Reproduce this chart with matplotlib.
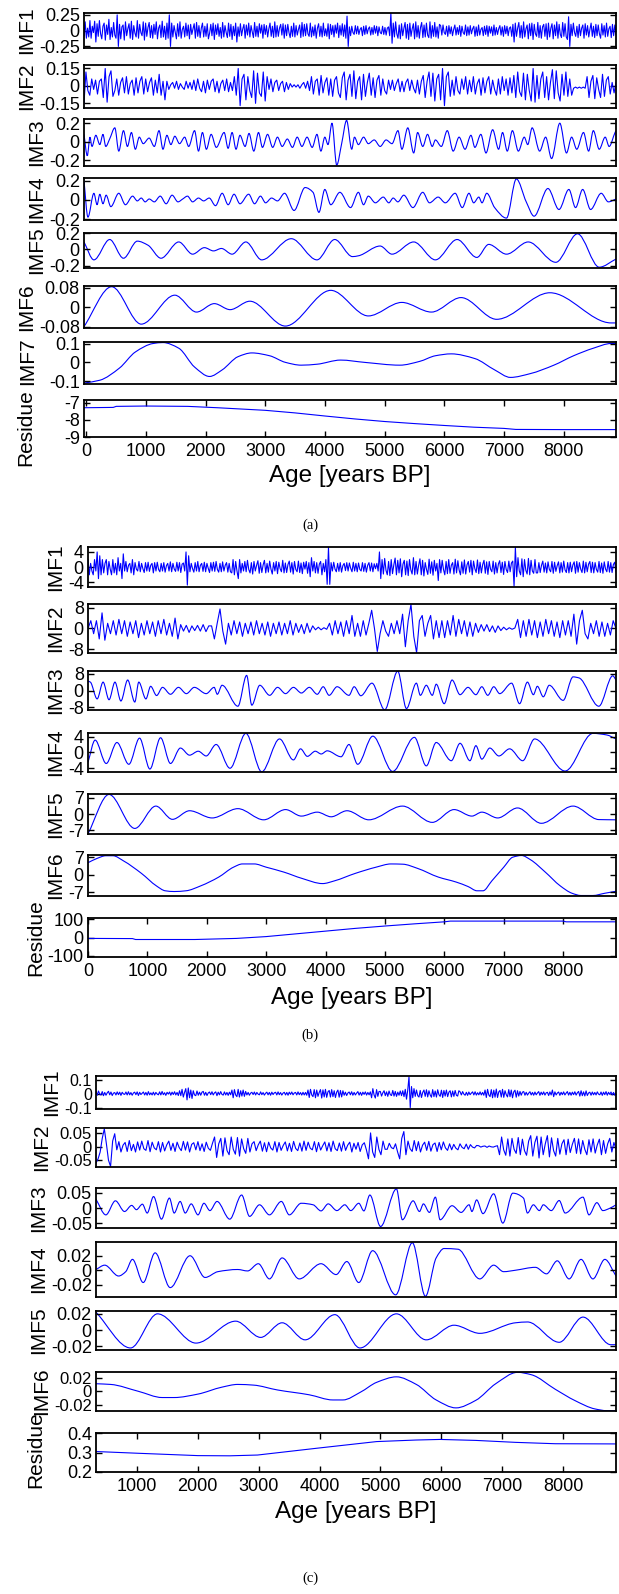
import numpy as np
import matplotlib
matplotlib.use('Agg')
import matplotlib.pyplot as plt
from matplotlib.path import Path
from matplotlib.patches import PathPatch

plt.rcParams['font.family'] = ['Liberation Sans', 'DejaVu Sans']

# ------------------------------------------------------------------ DATA
# ---- (a) ----
a_span = (-40, 8880)
a_imf1 = [-8,14,-12,4,-10,16,-12,7,-3,15,-18,11,-9,16,-5,-13,7,12,-15,9,-6,18,-14,5,-10,13,-7,-12,
          25,-25,
          10,-13,6,9,-15,14,-8,3,11,-12,15,-14,8,-4,-10,16,-12,10,-3,-8,14,-15,12,-9,5,13,-11,8,-12,10,-6,14,-13,4,9,-11,15,-10,7,-14,12,-12,
          25,-25,
          12,-10,8,-3,-13,11,-9,14,-12,2,7,-10,12,-8,9,-13,10,-6,3,11,-12,13,-9,8,-11,4,12,-10,7,-9,11,-13,-4,10,-8,12,-14,9,-6,11,
          -9,5,-12,13,-10,8,-3,-11,12,-9,10,-14,7,-8,12,-18,6,
          -9,11,-8,3,10,-12,9,-7,12,-10,8,-2,-11,13,-9,7,-10,11,-4,9,-12,10,-6,8,-10,3,12,-9,7,-11,
          14,-10,8,-9,4,10,-7,11,-12,9,-8,10,-3,-11,7,-9,12,-10,8,-7,2,9,-11,13,-9,10,-8,11,-5,-9,
          12,-10,6,-8,9,-12,4,11,-9,7,-10,12,-8,3,-9,11,-13,10,-6,8,-10,9,-4,12,-11,8,-7,11,-9,9,-12,
          23,-25,
          6,-8,7,-3,-6,8,-5,7,-6,2,5,-8,7,-6,8,-5,3,6,-7,5,-6,8,-4,7,-8,6,-3,-5,7,-6,5,-7,4,6,-8,
          28,-20,
          12,-10,14,-5,-12,9,-13,11,-8,4,13,-12,10,-14,12,-9,3,11,-13,14,-10,8,-12,5,13,-11,9,-10,12,-7,-11,14,-12,8,-9,13,-10,6,-12,10,
          8,-7,9,-3,-6,7,-9,8,-5,6,-8,2,9,-7,5,-6,8,-9,7,-3,-6,9,-8,6,-7,8,-5,3,7,-9,
          6,-8,9,-7,2,5,-8,7,-6,8,-9,7,-4,6,-8,9,-7,5,-6,3,8,-7,6,-9,8,-5,7,-8,4,6,-9,
          10,-18,12,-9,4,13,-11,8,-12,14,-10,3,9,-13,11,-8,12,-14,10,-5,-9,13,-11,8,-12,6,10,-9,11,-14,
          12,-10,4,11,-13,9,-8,14,-12,10,-6,-11,13,-9,11,-10,-14,
          22,-25,
          10,-8,12,-3,-9,7,-11,10,-8,4,9,-12,11,-7,8,-10,2,12,-9,7,-11,10,-8,9,-5,-12,11,-7,8,-10,12,-9,3,7,-11,10,-8,9,-6]  # x0.01
a_imf2 = [-15,12,-4,-8,6,-3,5,-7,4,6,
          -10,15,-14,8,13,-9,-4,
          6,-8,3,7,-6,8,-7,2,5,-8,7,-6,4,8,-7,6,-5,3,7,-8,5,-6,10,-8,4,-12,
          4,-3,1,3,-2,4,-3,2,-1,-3,4,-2,3,-3,
          5,-4,6,-2,-5,4,-6,5,-3,4,6,-5,4,-6,2,5,-4,6,-5,3,-4,
          8,-8,15,-17,6,10,-12,8,-4,-10,13,-15,11,-6,-9,12,-13,8,-3,6,-5,3,
          5,-4,2,4,-5,3,-3,2,-1,1,-1,1,-2,1,3,-2,4,-4,
          8,-7,4,6,-8,9,-6,3,7,-8,6,-9,5,8,-6,-10,7,
          12,-12,5,10,-9,13,-11,4,8,-12,10,-9,3,11,-8,7,-10,5,9,-8,6,-4,-7,5,-3,
          5,-4,2,6,-5,4,-5,3,6,-4,5,-2,-6,5,-7,4,
          9,-10,4,12,-9,11,-13,6,10,-12,15,-17,8,12,-9,5,-8,8,-4,
          -7,6,-3,8,-7,5,-5,8,-7,2,6,-8,7,-6,4,8,-7,5,-3,-8,6,-7,8,-4,6,-8,7,-6,9,
          -10,12,-5,-9,11,-12,10,-4,-13,15,-14,9,-11,6,12,-10,8,-12,3,14,-11,13,-6,-13,10,-8,12,-9,6,-8,
          -2,-1,-2,-1,-2,-1,-2,
          8,-10,4,9,-11,7,-3,-10,10,-9,5,8,-7,3,-6,3]  # x0.01
a_imf3_age = [-40,15,60,93,159,225,278,325,390,477,543,622,688,755,821,887,953,1052,1139,1218,
              1284,1350,1417,1483,1562,1648,1715,1814,1880,1946,2012,2092,2178,2310,2376,2443,2509,2575,2661,2727,
              2807,2886,2952,3038,3124,3204,3283,3369,3455,3535,3614,3700,3786,3866,3932,3998,4051,4118,4197,4280,
              4363,4449,4495,4561,4648,4727,4826,4926,5025,5124,5224,5290,5389,5488,5554,5640,5720,5799,5852,5951,
              6051,6150,6249,6349,6448,6514,6614,6700,6812,6912,6978,7057,7143,7243,7342,7400,7474,7600,7700,7800,
              7938,8050,8136,8222,8335,8421,8500,8599,8699,8765,8864,8880]
a_imf3_val = [0.08,-0.15,0.05,-0.05,0.07,-0.03,0.08,-0.05,0.03,0.15,-0.1,0.12,-0.05,0.1,-0.08,0.05,-0.02,0.04,-0.05,0.12,
              -0.08,0.07,-0.03,0.06,-0.02,0.05,-0.05,0.12,-0.1,0.1,-0.08,0.08,-0.06,0.1,-0.07,0.1,-0.08,0.07,-0.05,0.09,
              -0.1,0.1,-0.06,0.08,-0.06,0.05,-0.05,0.03,-0.06,0.05,-0.05,0.05,-0.06,0.08,-0.1,0.05,-0.03,0.2,-0.25,-0.02,
              0.23,-0.08,0.05,-0.03,0.05,-0.02,0.02,-0.05,0.02,-0.02,0.12,-0.08,0.15,-0.12,0.1,-0.05,0.08,-0.05,0.02,-0.05,
              0.12,-0.1,0.05,-0.08,0.07,-0.06,0.08,-0.12,0.13,-0.08,0.1,-0.1,0.12,-0.1,0.05,-0.03,0.15,-0.1,0.05,-0.18,
              0.2,-0.12,0.05,-0.08,0.1,-0.1,0.12,-0.08,0.05,-0.05,0.1,0.12]
a_imf4_age = [-40,26,126,179,225,278,331,410,543,655,775,854,920,986,1053,1139,1238,1337,1437,1536,
              1615,1695,1781,1880,1966,2059,2165,2277,2377,2476,2575,2721,2820,2919,3005,3105,3204,3323,3482,3667,
              3800,3899,3998,4098,4250,4429,4561,4647,4727,4846,4978,5071,5144,5223,5322,5475,5640,5753,5898,6018,
              6183,6302,6415,6494,6580,6633,6713,6845,7044,7209,7375,7507,7739,7924,8090,8202,8321,8454,8632,8752,8880]
a_imf4_val = [0.2,-0.18,0.07,-0.05,0.06,-0.04,0.05,-0.07,0.07,-0.05,0.04,-0.01,0.02,-0.02,0.01,-0.02,0.04,-0.04,0.05,-0.02,
              0.01,0.04,-0.02,0.02,-0.01,0.02,-0.06,0.07,-0.05,0.06,-0.04,0.06,-0.04,0.04,-0.03,0.02,-0.01,0.07,-0.11,0.13,
              0.08,-0.13,0.11,-0.05,0.08,-0.08,0.08,-0.05,0.04,-0.03,0.03,-0.03,0.02,-0.02,0.05,-0.08,0.08,-0.03,0.03,-0.03,
              0.07,-0.08,0.07,-0.03,0.03,-0.03,0.07,-0.08,-0.19,0.22,-0.02,-0.17,0.12,-0.1,0.11,-0.08,0.11,-0.1,0.07,-0.02,0.01]
a_imf5_age = [-40,126,391,622,854,1033,1251,1549,1781,1979,2132,2264,2443,2674,2939,3436,3866,4164,4462,4561,
              4925,5124,5488,5852,6216,6547,6746,7044,7408,7871,8235,8599,8880]
a_imf5_val = [0.09,-0.13,0.12,-0.11,0.1,0.05,-0.11,0.09,-0.06,0.02,-0.02,0.01,-0.06,0.09,-0.13,0.13,-0.13,0.12,-0.09,-0.08,
              0.04,-0.06,0.09,-0.13,0.12,-0.1,0.06,-0.06,0.09,-0.16,0.19,-0.22,-0.12]
a_imf6_age = [-40,424,920,1483,1847,2145,2410,2741,3336,4098,4727,5289,5786,6282,6878,7772,8798,8880]
a_imf6_val = [-0.08,0.085,-0.07,0.05,-0.02,0.015,-0.01,0.025,-0.078,0.07,-0.036,0.02,-0.02,0.04,-0.05,0.06,-0.065,-0.065]
a_imf7_age = [-40,225,556,821,1119,1284,1549,1814,2065,2277,2542,2774,3072,3336,3601,3866,4263,4660,5256,5587,
              5852,6117,6514,6845,7110,7441,7838,8169,8500,8798,8880]
a_imf7_val = [-0.11,-0.095,-0.03,0.055,0.1,0.105,0.075,-0.025,-0.075,-0.04,0.03,0.05,0.035,0.0,-0.015,-0.01,0.012,0.0,-0.015,0.005,
              0.035,0.045,0.02,-0.04,-0.08,-0.06,-0.015,0.035,0.075,0.1,0.1]
a_res_age = [-40,450,500,1000,1700,2200,3000,3500,4000,4500,5000,5500,6000,6500,7000,7200,8000,8880]
a_res_val = [-7.3,-7.28,-7.22,-7.2,-7.22,-7.3,-7.45,-7.6,-7.78,-7.95,-8.1,-8.22,-8.33,-8.43,-8.5,-8.56,-8.57,-8.57]

# ---- (b) ----
b_span = (0, 8890)
b_imf1 = [2,-2,1,-1,-2,2,-1,
          4,-3,3,
          -2,2,-1.5,1,2,-2,1.5,-0.5,-2,2,-1.5,1,-2,2.5,-1,1,-3,
          3.5,
          -1,1.5,-1.2,0.5,1,-1.5,2,-2,1.2,-0.5,-1,1.5,-1.2,1,-0.4,-1.4,1.2,-1,1.3,-1.1,
          0.5,1,-1.5,1.2,-1,1.3,-0.6,-1.2,1,-1,1.2,-1.3,0.4,1,-1,1.4,-1.2,1,-0.5,-1.1,1.3,-1,1.2,-1.4,0.8,1.1,-1,
          4,-4.7,3,
          -1.2,1,-0.4,-1.3,1.2,-1,1.5,-1.2,0.5,1,-1.1,1.3,-1.2,1,-0.3,-1.4,1.2,-1,1.3,-1.1,1.5,-0.6,-1.3,1,-1.2,1.4,-1,0.5,1.2,-1.3,1,-1.2,-1.5,
          2,-2,1.5,-1,-3,2,-1.5,1,-1,
          1.5,-1.2,1.8,-0.6,-1.5,1.2,-1.8,1.5,-1,0.5,1.7,-1.6,1.2,-1.4,0.6,1.8,-1.5,1,-1.3,1.6,
          -0.5,-1.8,1.2,-1,1.5,-1.7,1.3,-0.4,-1.2,1.8,-1.5,1.1,-1.4,0.7,1.6,-1.3,1.2,-1.8,1.5,-0.6,
          -1.2,1.6,-1.4,1.1,-1.7,1.3,-0.5,1.5,-1.6,1.2,
          -2.5,2.5,-1,
          1.5,-1.5,1.2,-1.6,0.8,1.5,-2,1,-1.2,2,
          -4.5,5.2,-4.5,
          1.2,-1,1.3,-0.5,-1.2,1,-1.1,1.2,-1.3,0.4,1,-0.9,1.2,-1,1.1,-0.3,-1.2,1.3,-1,1,
          -1.2,1.1,-0.6,-1,1.2,-1.1,1,-1.3,0.5,1.2,-1,1.1,-1.2,0.9,-0.4,1,-1,
          4,-3,
          2,-1.8,2.3,-0.8,-2,1.5,-2.2,2,-1.7,0.6,2.4,-2,1.8,-1.5,2.2,-2.5,0.8,1.8,-2,1.6,
          -2.2,2,-0.7,-1.8,2.5,-2,1.5,-1.8,0.5,2.2,-2,1.8,-2.3,1.2,-0.6,-1.9,2.1,-1.6,1.4,-2.1,1.8,-1,1,
          -3.5,
          2,-1.5,1.8,-0.6,-2,1.5,-1.7,2,-1.6,0.5,1.2,-1.8,2.1,-1.5,1.7,-0.8,-2,1.4,-1.6,1.9,
          -1.8,0.6,1.5,-1.3,1.8,-2,1.6,-0.4,-1.4,1.9,-1.7,1.3,-1.5,0.7,1.8,-1.6,1.4,-1.9,1.5,-0.5,
          -1.2,1.6,-1.8,1.2,-1.5,0.8,1.7,-1.4,1.3,-1.9,1.5,-0.6,-1.4,1.6,-1.2,1.1,1.6,
          -5,5.2,
          -2.5,2.5,-1,-2,2.2,-2.5,2,-0.8,-1.8,2.3,-2,1.8,-1,-1.6,2,-1.5,
          -1.5,1.2,-1.4,0.5,1.6,-1.3,1.1,-1.5,1.4,-0.6,-1.2,1.5,-1.6,1.3,-1.1,0.4,1.4,-1.5,1.2,-1.3,
          1.6,-0.7,-1.4,1.2,-1.5,1.3,-1.2,0.6,1.4,-1.6,1.5,-1.3,1.2,-0.5,-1.4,1.6,-1.5,1.3,-1.2,0.8,
          1.5,-1.4,1.3,-1.5,1.2,-0.6,-1.3,1.5,-1.4,1.1,-1.6,1.4,-0.5,-1.2,1.5,-1.3,1.2,-1.4,0.7,1.3,-1.2]
b_imf2 = [0,3,-2,3,-4,6,-4.5,2,
          -2,3,-2.5,3.5,-2,3,-3,2.5,-2,3,-3.5,2,-2.5,3,-2,2.5,-3,3,-2,3.5,-2.5,2,-3,4,
          -4,
          1.5,-1,1.2,-1.5,1,-0.8,1.2,-1,1.5,-1.2,1,
          1,-4,2,7.5,-1,-6,
          2,-2.5,3,-2,2.5,-3,2,-2,2.5,-2.5,3,-2,2,-2.5,2.5,-3,2,-2,2.5,-2.5,2,-2,3,-2.5,2,-1.5,1.5,-2,2,-1.5,1,-0.5,0.5,-0.5,0.3,-0.3,
          2,-2.5,3,-2,2.5,-3,3,-2,5,-3,2,-3,3,-2.5,
          2,7,0,-8.8,-2,3,-1,-3,2,-2,3,-2,5.5,-7,3,9.3,-3,-9.3,3,5,-3,2,5,-4,3,-3.5,
          3,-3.5,3,-2.5,5,-3,3.5,-2,3,-3,2.5,-3,2,
          -1.5,1.5,-1,1.5,-1.2,1,-1.5,1,-0.8,0.5,-0.5,0.3,-0.3,0.2,
          3.5,-3.5,3,-3,3.5,-2.5,3,-3.5,2.5,-3,3.5,-2,3,-3,2.5,-3.5,3,-2.5,3,-3,
          5.5,-6,3,7,-2,-4,
          2,-2,3,-3,2.5,-3,2,-2.5,3,0]
b_imf3_age = [0,40,154,254,354,454,554,668,788,855,975,1055,1155,1255,1389,1523,1656,1790,1990,2124,
              2177,2257,2524,2671,2758,2892,3059,3192,3326,3459,3593,3726,3860,3960,4060,4194,4394,4481,4594,4781,
              4995,5215,5362,5529,5596,5696,5797,5863,5997,6130,6264,6398,6531,6631,6731,6832,6932,7132,7266,7399,
              7499,7566,7666,7766,8000,8167,8267,8601,8835,8890]
b_imf3_val = [4.5,4,-4,4,-4.4,4,-5,5,-5.5,4,-4,2,-2.4,1.5,-1.8,1.5,-1.5,1.5,-1.5,1.5,
              -1.8,2.5,-7.5,7.2,-7,2.5,-2.3,1.5,-1.5,1.5,-1.2,1.5,-1.8,1.8,-2.3,1.8,-2.3,1.8,-2.5,3.5,
              -9.2,9.2,-8.6,3.5,-2.3,2.5,-2.3,3,-6.3,5,-2,1.5,-2,1.8,-2.3,1.8,-1.5,3.5,-6.3,4,
              -2,2,-3,2.5,-4.7,6.5,6,-7.5,7,5]
b_imf4_age = [0,120,307,487,688,868,1042,1222,1389,1556,1710,1856,1990,2157,2391,2658,2925,3225,3459,3579,
              3693,3827,3927,4027,4261,4394,4541,4795,5129,5496,5696,5863,6117,6264,6431,6531,6631,6765,6918,7099,
              7319,7519,8033,8501,8735,8890]
b_imf4_val = [-2.5,3.1,-2.8,2.5,-3,3.6,-4.2,3.7,-2.8,1.1,-0.7,0.3,-0.9,2,-4,4.8,-4.9,3.4,-1.9,0.9,
              -1,0.3,-0.4,0.4,-1.1,2,-3,4.1,-4.8,3.8,-3.4,2.5,-2.1,2.3,-2.1,1.7,-1.7,1.1,-0.9,0.9,
              -2.1,3.4,-4.7,4.8,4.4,3.4]
b_imf5_age = [0,354,788,1142,1422,1710,2090,2524,2958,3326,3593,3860,4094,4361,4728,5296,5797,6164,6464,6631,
              6898,7232,7633,8167,8601,8890]
b_imf5_val = [-8.5,8.4,-6.2,3.4,-2.3,1.4,-1.7,2.3,-2.5,1.9,-0.9,0.8,-1.2,1.4,-2.5,3.4,-3.6,1.9,-0.9,0.8,
              -1.7,2.6,-4,3.4,-2.4,-2.5]
b_imf6_age = [0,150,300,420,600,900,1150,1300,1450,1650,1900,2200,2450,2600,2800,3000,3300,3600,3950,4150,
              4500,4850,5100,5300,5550,5900,6200,6400,6550,6650,6800,7000,7150,7300,7450,7700,7950,8150,8300,8500,
              8700,8890]
b_imf6_val = [4.8,6.5,7.6,7.6,5.5,0.5,-4.5,-6.5,-6.8,-6.5,-4.5,-1,3,4.3,4.3,3,1,-1.5,-3.6,-2.5,
              0.5,3,4.3,4.2,2.5,-1,-3,-4.8,-6.5,-6.5,-2.5,3,7,7.7,6,1,-4.5,-7.5,-8.4,-8.4,
              -7.5,-6.7]
b_res_age = [0,750,800,1800,2500,3000,3500,4000,4500,5000,5500,6000,6100,8000,8050,8890]
b_res_val = [-5,-6,-11,-11,-5,5,20,35,50,63,75,86,90,90,86,86]

# ---- (c) ----
c_span = (329, 8870)
c_imf1 = [15,-12,18,-4,-10,14,-15,8,-12,5,16,-9,11,-14,3,7,-10,12,-8,10,
          -13,9,-3,-6,11,-10,13,-9,7,-12,4,10,-8,12,-14,9,-7,2,11,-10,
          8,-12,14,-9,5,-10,10,-11,8,-3,-9,12,-10,15,-8,6,-13,9,-4,11,-12,10,-7,13,-10,8,-14,
          20,-15,30,-25,8,35,-45,40,-30,25,-35,20,-10,-15,18,-12,10,
          -12,10,15,-12,9,-14,4,11,-8,13,-10,5,12,-15,10,-9,14,-6,-11,12,-10,8,-13,10,-9,
          25,-30,28,-10,-22,30,-25,20,-18,25,-20,15,
          -10,8,-12,3,9,-7,11,-10,8,-4,-9,12,-8,7,-11,2,10,-9,8,-12,
          10,-7,5,9,-10,12,-8,7,-11,3,9,-10,8,-12,10,-6,11,-9,4,8,-10,12,-8,7,-11,9,-10,8,-12,
          25,-28,30,-10,-22,28,-30,25,-20,8,28,-32,26,-24,30,-27,12,22,-25,28,-22,20,-28,10,25,-26,22,-24,20,
          -12,10,-14,4,11,-9,13,-12,8,-10,3,14,-11,9,-13,10,-6,12,-11,8,-9,12,
          -30,35,-10,-32,28,-20,15,
          15,-18,5,20,-15,12,-20,18,-8,-14,22,-18,15,-20,10,-12,18,-15,20,-22,
          30,-40,25,120,-100,50,-30,35,-20,25,-15,
          -25,22,-28,8,25,-20,27,-24,20,-10,-26,28,-22,18,-25,27,-8,-20,24,-28,
          22,-18,25,-22,10,20,-24,18,-20,22,-12,-18,20,
          12,-10,14,-4,-12,9,-13,11,-8,3,12,-10,13,-11,6,-9,12,-10,8,-12,
          25,-28,30,-10,-22,28,-30,24,-26,32,-28,12,22,-25,30,-27,20,-8,-24,28,-22,25,-30,12,24,-26,20,-18,15,
          -12,10,14,-12,9,-11,3,13,-10,8,-12,11,-9,4,14,-13,10,-8,12,-11,
          5,9,-14,12,-10,25,-22,12,-10,4,11,-13,9,-8,12,-10,3,14,-11,9,
          -12,10,-8,13,-11,5,15,-18,20,-15,12,-17,19,-14,4,10,-12,11,-9,8,
          -10,12,-4,-9,11,-13,10,-8,14,-12,9,-6,11,-10,8,-12,10]  # x0.001
c_imf2 = [-60,-45,-20,30,65,10,-50,-73,20,47,-12,
          18,-20,5,15,-18,22,-15,8,-20,17,-13,20,-8,-14,22,-19,16,-5,-12,18,
          -20,15,-16,6,20,-14,12,-18,16,-4,-15,19,-13,17,-20,8,14,-12,18,-15,
          10,-18,16,-6,-14,12,
          35,-40,10,30,-35,32,-15,
          -30,35,-10,-28,33,-35,28,-8,-25,30,-20,10,
          18,-15,6,20,-17,14,-19,16,-5,-13,18,-20,15,-14,4,17,-16,12,-18,19,
          -7,-15,13,-17,20,-14,16,-6,-12,18,-19,15,-13,3,17,-16,14,-18,20,-8,
          -15,13,-17,18,-14,5,16,-20,12,-10,15,-18,6,14,-12,
          -45,50,-20,-40,35,-10,-30,20,-10,
          -10,12,-4,-8,10,-20,-45,30,55,
          -30,20,-8,-18,22,-15,18,-20,5,16,-14,19,-17,7,13,-18,15,-12,17,-5,-14,10,-12,8,-6,
          -12,10,-3,-8,9,-10,7,-2,-5,4,
          3,-2,1,2,-3,2,-1,-2,1,3,
          -30,35,-12,-32,28,-35,30,-10,-25,33,-30,27,-15,-32,20,
          40,-35,15,38,-42,35,-30,10,40,-38,32,-15,-35,
          30,-28,10,25,-30,27,-22,8,30,-25,28,-27,22,-10,-30,25,-20,28,-24,6,
          27,-30,22,-25,10,30,-20,15,-10]  # x0.001
c_imf3_age = [329,491,648,798,915,993,1091,1170,1274,1404,1535,1613,1711,1795,1893,2004,2102,2200,2317,2526,
              2721,2852,3015,3178,3373,3504,3699,3895,4025,4143,4286,4416,4514,4645,4729,4827,5003,5264,5362,5538,
              5642,5707,5805,5903,5981,6177,6327,6457,6503,6581,6685,6861,7011,7174,7350,7416,7513,7611,7676,7807,
              7937,8035,8328,8426,8556,8654,8772,8870]
c_imf3_val = [0.029,-0.022,0.024,-0.011,0.009,-0.005,0.013,-0.016,0.038,-0.036,0.033,-0.016,0.022,-0.016,0.014,-0.022,0.016,-0.008,0.022,-0.036,
              0.043,-0.027,0.011,-0.022,0.022,-0.022,0.016,0.011,-0.009,0.014,-0.008,0.011,-0.008,0.016,-0.009,0.043,-0.06,0.063,-0.038,0.024,
              -0.011,0.014,-0.014,0.036,-0.038,0.008,-0.014,0.011,-0.011,0.027,-0.018,0.047,-0.049,0.049,0.033,-0.016,0.011,-0.008,0.011,-0.008,
              0.025,-0.016,0.036,-0.022,0.018,-0.008,0.0,0.011]
c_imf4_age = [329,472,700,817,928,1104,1300,1548,1874,2121,2330,2656,2819,2995,3178,3386,3667,4025,4273,4449,
              4645,4873,5251,5525,5740,5916,6046,6275,6633,6861,7024,7220,7546,7729,7905,8100,8296,8491,8687,8870]
c_imf4_val = [0.001,0.007,-0.008,-0.002,0.015,-0.017,0.024,-0.024,0.02,-0.01,-0.002,0.001,-0.001,0.009,-0.012,0.017,-0.012,0.009,-0.006,0.012,
              -0.017,0.027,-0.034,0.038,-0.036,0.017,0.03,0.029,-0.012,0.007,-0.002,0.0,0.004,-0.005,0.013,-0.012,0.015,-0.012,0.015,-0.008]
c_imf5_age = [329,896,1339,1971,2623,3034,3386,3764,4253,4664,5264,5753,6209,6633,7220,7416,7937,8328,8785,8870]
c_imf5_val = [0.022,-0.022,0.02,-0.016,0.011,-0.009,0.009,-0.012,0.019,-0.022,0.02,-0.012,0.006,-0.004,0.009,0.01,-0.015,0.016,-0.018,-0.018]
c_imf6_age = [329,570,1026,1417,1613,2004,2395,2656,2917,3308,3830,4221,4384,4677,4938,5264,5590,5916,6242,6568,
              6894,7252,7481,7872,8198,8524,8720,8870]
c_imf6_val = [0.011,0.01,0.0,-0.009,-0.009,-0.004,0.006,0.01,0.009,0.002,-0.005,-0.0125,-0.0125,-0.001,0.013,0.021,0.01,-0.0125,-0.024,-0.013,
              0.011,0.0275,0.024,0.003,-0.0135,-0.0255,-0.028,-0.028]
c_res_age = [329,1026,2004,2526,2982,3960,4938,5590,5981,6568,7220,7872,8870]
c_res_val = [0.305,0.296,0.284,0.283,0.287,0.322,0.356,0.364,0.367,0.362,0.352,0.345,0.344]

# tick labels / texts
xt_ab = [0, 1000, 2000, 3000, 4000, 5000, 6000, 7000, 8000]
xt_c = [1000, 2000, 3000, 4000, 5000, 6000, 7000, 8000]
x_label = 'Age [years BP]'
captions = ['(a)', '(b)', '(c)']

# ------------------------------------------------------------------ LAYOUT / STYLE
W, H = 619, 1594
RIGHT = 616
BLUE = '#0000ff'
LW = 0.8
TICK_FS = 13
fig = plt.figure(figsize=(W / 100, H / 100), dpi=100)


def pchip_path(x, y):
    x = np.asarray(x, float)
    y = np.asarray(y, float)
    h = np.diff(x)
    d = np.diff(y) / h
    n = len(x)
    m = np.zeros(n)
    m[0], m[-1] = d[0], d[-1]
    for i in range(1, n - 1):
        if d[i - 1] * d[i] > 0:
            w1 = 2 * h[i] + h[i - 1]
            w2 = h[i] + 2 * h[i - 1]
            m[i] = (w1 + w2) / (w1 / d[i - 1] + w2 / d[i])
    verts = [(x[0], y[0])]
    codes = [Path.MOVETO]
    for i in range(n - 1):
        verts += [(x[i] + h[i] / 3, y[i] + m[i] * h[i] / 3),
                  (x[i + 1] - h[i] / 3, y[i + 1] - m[i + 1] * h[i] / 3),
                  (x[i + 1], y[i + 1])]
        codes += [Path.CURVE4] * 3
    return Path(verts, codes)


def panel(left, top, bottom, label, x, y, xlim, ylim, yticks, yticklabels,
          smooth, xticks=None, xlabel_y=None, ylab_px=None, tick_fs=TICK_FS):
    w = RIGHT - left
    hgt = bottom - top
    ax = fig.add_axes([left / W, 1 - bottom / H, w / W, hgt / H])
    if smooth:
        ax.add_patch(PathPatch(pchip_path(x, y), fill=False, edgecolor=BLUE, lw=LW))
    else:
        ax.plot(x, y, color=BLUE, lw=LW)
    ax.set_xlim(*xlim)
    ax.set_ylim(*ylim)
    ax.set_yticks(yticks)
    ax.set_yticklabels(yticklabels)
    ax.tick_params(axis='y', direction='in', left=True, right=True, length=4,
                   width=1, labelsize=tick_fs, pad=3)
    if xticks is None:
        ax.set_xticks([])
    else:
        ax.set_xticks(xticks)
        ax.set_xticklabels([str(t) for t in xticks])
        ax.tick_params(axis='x', direction='in', top=True, bottom=True, length=4,
                       width=1, labelsize=TICK_FS, pad=4)
        ax.set_xlabel(x_label, fontsize=17.5, va='center')
        ax.xaxis.set_label_coords(0.5, -(xlabel_y - bottom) / hgt)
    for s in ax.spines.values():
        s.set_linewidth(1.3)
    if ylab_px is None:
        ax.set_ylabel(label, fontsize=15, labelpad=2)
    else:
        ax.set_ylabel(label, fontsize=15, va='center')
        ax.yaxis.set_label_coords((ylab_px[0] - left) / w, (bottom - ylab_px[1]) / hgt)
    return ax


def even(span, vals, scale=1.0):
    v = np.asarray(vals, float) * scale
    return np.linspace(span[0], span[1], len(v)), v


# ---- (a)
xa = (-40, 8880)
L = 84
x, v = even(a_span, a_imf1, 0.01)
panel(L, 13, 48, 'IMF1', x, v, xa, (-0.275, 0.28), [-0.25, 0, 0.25], ['-0.25', '0', '0.25'], False)
x, v = even(a_span, a_imf2, 0.01)
panel(L, 65, 108, 'IMF2', x, v, xa, (-0.19, 0.18), [-0.15, 0, 0.15], ['-0.15', '0', '0.15'], False)
panel(L, 119, 166, 'IMF3', a_imf3_age, a_imf3_val, xa, (-0.26, 0.245), [-0.2, 0, 0.2], ['-0.2', '0', '0.2'], True)
panel(L, 178, 220, 'IMF4', a_imf4_age, a_imf4_val, xa, (-0.21, 0.23), [-0.2, 0, 0.2], ['-0.2', '0', '0.2'], True)
panel(L, 233, 268, 'IMF5', a_imf5_age, a_imf5_val, xa, (-0.23, 0.2), [-0.2, 0, 0.2], ['-0.2', '0', '0.2'], True)
panel(L, 286, 328, 'IMF6', a_imf6_age, a_imf6_val, xa, (-0.086, 0.088), [-0.08, 0, 0.08], ['-0.08', '0', '0.08'], True)
panel(L, 342, 384, 'IMF7', a_imf7_age, a_imf7_val, xa, (-0.115, 0.108), [-0.1, 0, 0.1], ['-0.1', '0', '0.1'], True,
      ylab_px=(28, 361))
panel(L, 400, 437, 'Residue', a_res_age, a_res_val, xa, (-9.0, -6.85), [-9, -8, -7], ['-9', '-8', '-7'], False,
      xticks=xt_ab, xlabel_y=476, ylab_px=(26, 428))

# ---- (b)
xb = (0, 8890)
L = 88
x, v = even(b_span, b_imf1)
panel(L, 547, 587, 'IMF1', x, v, xb, (-5.2, 5.3), [-4, 0, 4], ['-4', '0', '4'], False)
x, v = even(b_span, b_imf2)
panel(L, 604, 653, 'IMF2', x, v, xb, (-9.4, 9.4), [-8, 0, 8], ['-8', '0', '8'], False)
panel(L, 671, 710, 'IMF3', b_imf3_age, b_imf3_val, xb, (-9.3, 9.3), [-8, 0, 8], ['-8', '0', '8'], True)
panel(L, 733, 772, 'IMF4', b_imf4_age, b_imf4_val, xb, (-4.95, 4.9), [-4, 0, 4], ['-4', '0', '4'], True)
panel(L, 794, 834, 'IMF5', b_imf5_age, b_imf5_val, xb, (-8.6, 8.6), [-7, 0, 7], ['-7', '0', '7'], True)
panel(L, 855, 896, 'IMF6', b_imf6_age, b_imf6_val, xb, (-8.6, 7.9), [-7, 0, 7], ['-7', '0', '7'], True)
panel(L, 918, 957, 'Residue', b_res_age, b_res_val, xb, (-107, 107), [-100, 0, 100], ['-100', '0', '100'], False,
      xticks=xt_ab, xlabel_y=998)

# ---- (c)
xc = (329, 8870)
L = 96
x, v = even(c_span, c_imf1, 0.001)
panel(L, 1076, 1109, 'IMF1', x, v, xc, (-0.11, 0.125), [-0.1, 0, 0.1], ['-0.1', '0', '0.1'], False,
      tick_fs=11.5)
x, v = even(c_span, c_imf2, 0.001)
panel(L, 1128, 1167, 'IMF2', x, v, xc, (-0.075, 0.068), [-0.05, 0, 0.05], ['-0.05', '0', '0.05'], False,
      tick_fs=12)
panel(L, 1188, 1228, 'IMF3', c_imf3_age, c_imf3_val, xc, (-0.065, 0.066), [-0.05, 0, 0.05], ['-0.05', '0', '0.05'], True)
panel(L, 1242, 1297, 'IMF4', c_imf4_age, c_imf4_val, xc, (-0.037, 0.039), [-0.02, 0, 0.02], ['-0.02', '0', '0.02'], True)
panel(L, 1311, 1350, 'IMF5', c_imf5_age, c_imf5_val, xc, (-0.0245, 0.0235), [-0.02, 0, 0.02], ['-0.02', '0', '0.02'], True)
panel(L, 1372, 1411, 'IMF6', c_imf6_age, c_imf6_val, xc, (-0.0285, 0.028), [-0.02, 0, 0.02], ['-0.02', '0', '0.02'], True,
      tick_fs=12)
panel(L, 1433, 1472, 'Residue', c_res_age, c_res_val, xc, (0.2, 0.4), [0.2, 0.3, 0.4], ['0.2', '0.3', '0.4'], False,
      xticks=xt_c, xlabel_y=1512, ylab_px=(36, 1450))

for cap, yy in zip(captions, [525, 1035, 1578]):
    fig.text(310 / W, 1 - yy / H, cap, ha='center', va='center', fontsize=10.5,
             family=['Liberation Serif', 'DejaVu Serif'])

fig.savefig('out.png', dpi=100)
